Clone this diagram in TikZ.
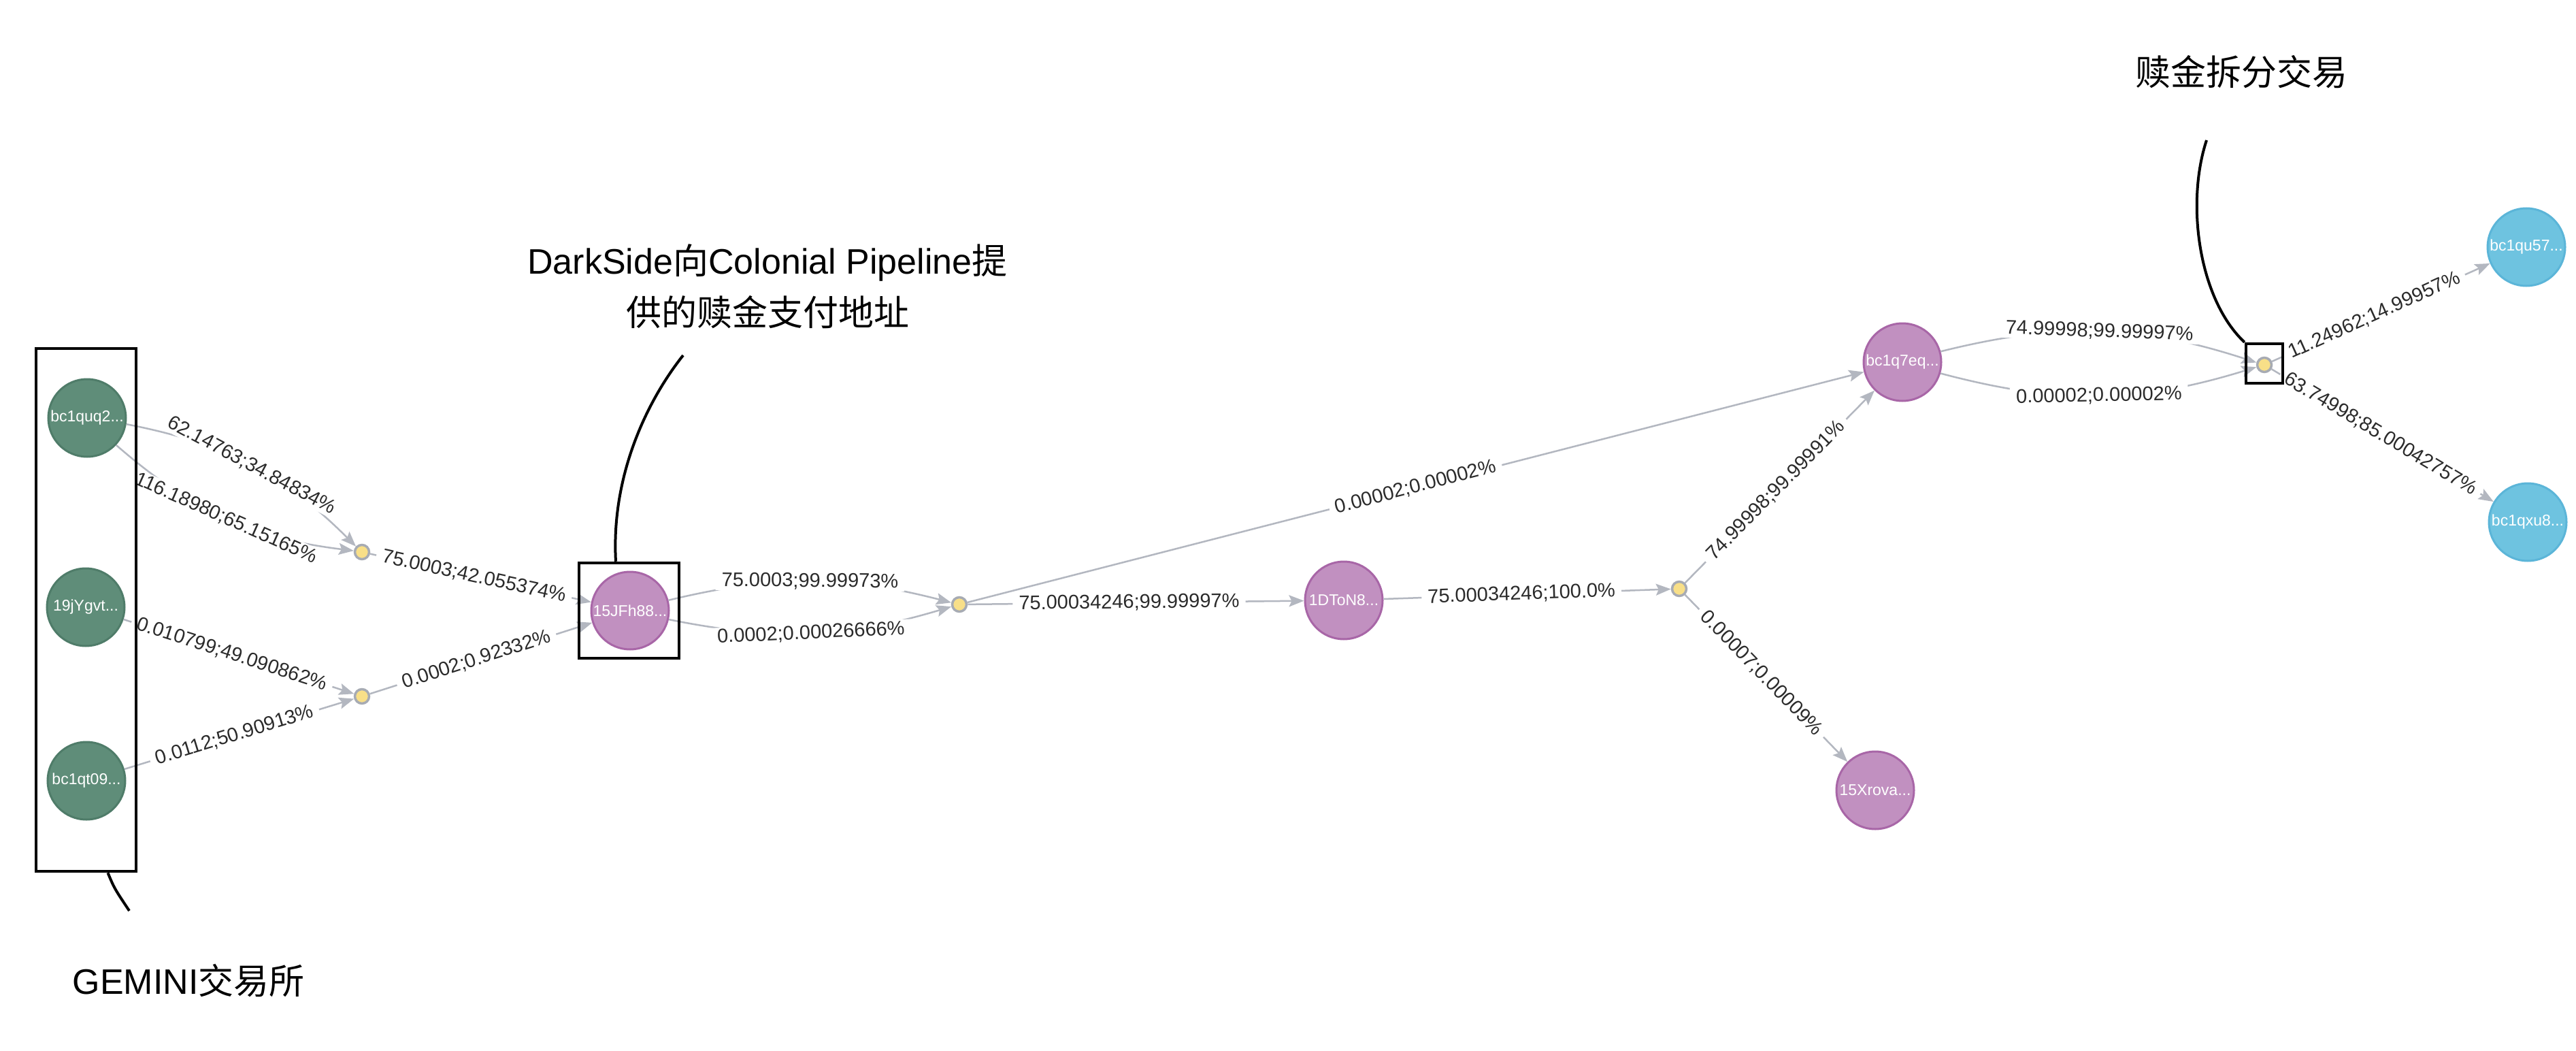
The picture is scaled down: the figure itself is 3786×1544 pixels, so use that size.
\documentclass[tikz,border=0pt]{standalone}
\usepackage{fontspec}
\setmainfont{Liberation Sans}
\newfontfamily\cjk{Noto Sans CJK SC}
\usetikzlibrary{arrows.meta}
\definecolor{gfill}{HTML}{5F8D79}
\definecolor{gline}{HTML}{4F7C69}
\definecolor{pfill}{HTML}{C190C0}
\definecolor{pline}{HTML}{A866A7}
\definecolor{cfill}{HTML}{6EC3E0}
\definecolor{cline}{HTML}{5BB5D8}
\definecolor{yfill}{HTML}{F8DF88}
\definecolor{yline}{HTML}{A7ABB3}
\definecolor{ecol}{HTML}{B3B7C0}
\definecolor{txtc}{HTML}{2B2B2B}
\tikzset{
  addr/.style={circle, minimum size=114pt, inner sep=0pt, text=white,
    font=\fontsize{23}{25}\selectfont, line width=3pt},
  grn/.style={addr, fill=gfill, draw=gline},
  pur/.style={addr, fill=pfill, draw=pline},
  cyn/.style={addr, fill=cfill, draw=cline},
  txn/.style={circle, minimum size=21pt, inner sep=0pt, fill=yfill, draw=yline, line width=3.5pt},
  flow/.style={draw=ecol, line width=2.5pt, -{Stealth[length=22pt,width=17pt,inset=4pt]}},
  lbl/.style={fill=white, inner xsep=9pt, inner ysep=2pt, text=txtc,
    font=\fontsize{29}{31}\selectfont, sloped},
  hbox/.style={draw=black, line width=4.5pt, inner sep=0pt},
  callout/.style={draw=black, line width=4pt},
  note/.style={font=\fontsize{52}{60}\selectfont, text=black, inner sep=0pt}
}
\begin{document}
\begin{tikzpicture}[x=1pt,y=-1pt]
\useasboundingbox (0,0) rectangle (3786,1544);
\fill[white] (0,0) rectangle (3786,1544);

% address and transaction nodes
\node[grn] (g1) at (128,614) {bc1quq2...};
\node[grn] (g2) at (126,892) {19jYgvt...};
\node[grn] (g3) at (127,1147) {bc1qt09...};
\node[txn] (y1) at (532,811) {};
\node[txn] (y2) at (532,1023) {};
\node[pur] (p1) at (926,897) {15JFh88...};
\node[txn] (y3) at (1410,888) {};
\node[pur] (d1) at (1975,882) {1DToN8...};
\node[txn] (y5) at (2468,865) {};
\node[pur] (b7) at (2796,532) {bc1q7eq...};
\node[pur] (x1) at (2756,1161) {15Xrova...};
\node[txn] (y4) at (3328,536) {};
\node[cyn] (c1) at (3713,363) {bc1qu57...};
\node[cyn] (c2) at (3715,767) {bc1qxu8...};

% flows
\draw[flow] (g1) to[bend left=17] node[lbl] {62.14763;34.84834\%} (y1);
\draw[flow] (g1) to[bend right=17] node[lbl] {116.18980;65.15165\%} (y1);
\draw[flow] (g2) -- node[lbl, pos=0.47] {0.010799;49.090862\%} (y2);
\draw[flow] (g3) -- node[lbl, pos=0.48] {0.0112;50.90913\%} (y2);
\draw[flow] (y1) -- node[lbl, pos=0.47] {75.0003;42.055374\%} (p1);
\draw[flow] (y2) -- node[lbl, pos=0.48] {0.0002;0.92332\%} (p1);
\draw[flow] (p1) to[bend left=14] node[lbl] {75.0003;99.99973\%} (y3);
\draw[flow] (p1) to[bend right=14] node[lbl] {0.0002;0.00026666\%} (y3);
\draw[flow] (y3) -- node[lbl, pos=0.48] {75.00034246;99.99997\%} (d1);
\draw[flow] (y3) -- node[lbl, pos=0.5] {0.00002;0.00002\%} (b7);
\draw[flow] (d1) -- node[lbl, pos=0.48] {75.00034246;100.0\%} (y5);
\draw[flow] (y5) -- node[lbl, pos=0.48] {74.99998;99.99991\%} (b7);
\draw[flow] (y5) -- node[lbl, pos=0.47] {0.00007;0.00009\%} (x1);
\draw[flow] (b7) to[bend left=16] node[lbl] {74.99998;99.99997\%} (y4);
\draw[flow] (b7) to[bend right=16] node[lbl] {0.00002;0.00002\%} (y4);
\draw[flow] (y4) -- node[lbl, pos=0.47] {11.24962;14.99957\%} (c1);
\draw[flow] (y4) -- node[lbl, pos=0.49] {63.74998;85.00042757\%} (c2);

% highlight boxes
\node[hbox, minimum width=147pt, minimum height=768pt] (box1) at (126.5,896) {};
\node[hbox, minimum width=147pt, minimum height=140pt] (box2) at (924.5,897) {};
\node[hbox, minimum width=54pt, minimum height=58pt] (box3) at (3328,534) {};

% annotations
\node[note, anchor=base] (n1a) at (1128,402) {DarkSide{\cjk 向}Colonial Pipeline{\cjk 提}};
\node[note, anchor=base] (n1b) at (1128,478) {\cjk 供的赎金支付地址};
\node[note, anchor=base] (n2) at (277,1460) {GEMINI{\cjk 交易所}};
\node[note, anchor=base] (n3) at (3294,126) {\cjk 赎金拆分交易};

\coordinate (k1) at (1004,522);
\coordinate (k2) at (190,1338);
\coordinate (k3) at (3243,206);

\draw[callout] (k1) .. controls (950,590) and (898,700) .. ([xshift=-19.5pt]box2.north);
\draw[callout] ([xshift=32pt]box1.south) .. controls (168,1305) .. (k2);
\draw[callout] (k3) .. controls (3212,300) and (3232,440) .. (box3.north west);
\end{tikzpicture}
\end{document}
